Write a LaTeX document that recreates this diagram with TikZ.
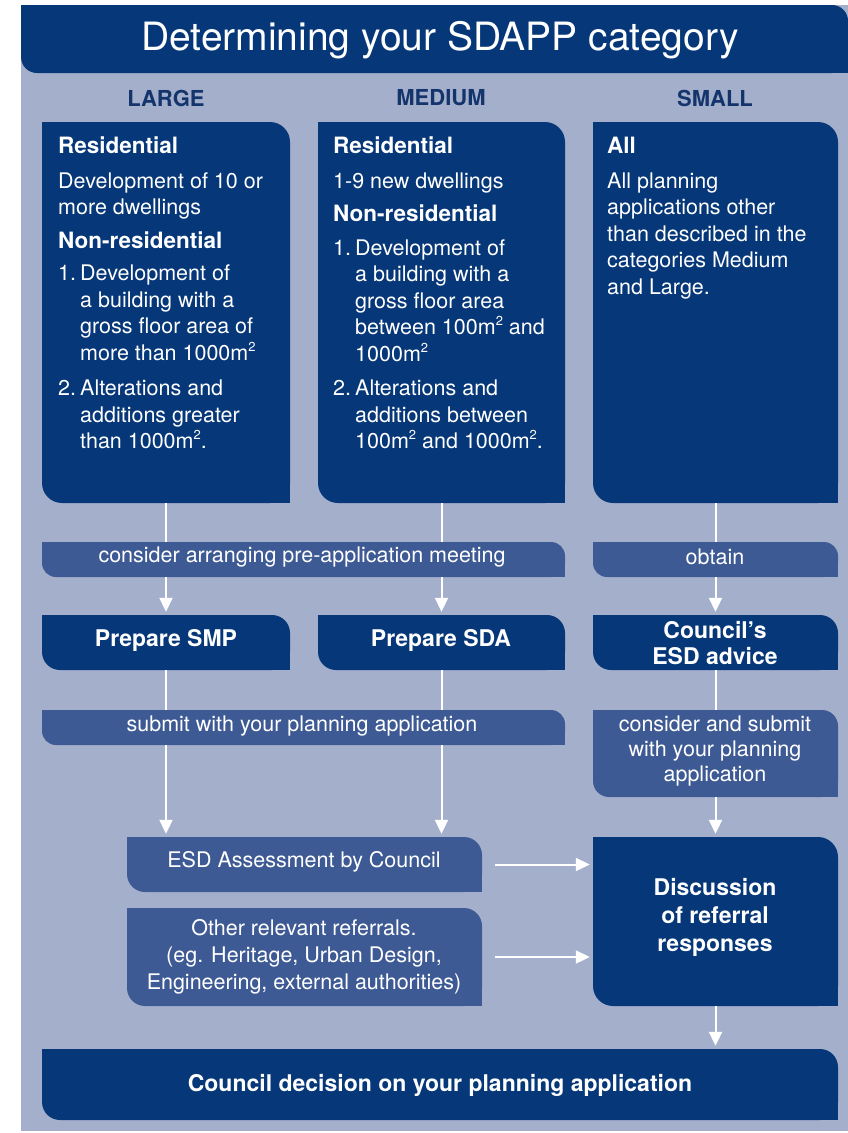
\documentclass[tikz,border=0pt]{standalone}
\usepackage{fontspec}
\setmainfont{TeX Gyre Heros}
\usetikzlibrary{arrows.meta}
\definecolor{navy}{RGB}{6,55,120}
\definecolor{midb}{RGB}{62,90,148}
\definecolor{panel}{RGB}{164,175,204}
\definecolor{headc}{RGB}{20,52,108}
\newcommand{\reg}{\fontsize{21.5}{26.5}\selectfont}
\newcommand{\hd}[1]{{\fontsize{22.5}{26.5}\selectfont\bfseries #1}}
\newcommand{\nitem}[1]{\makebox[22pt][l]{#1}}
\newcommand{\ind}{\hspace*{22pt}}
\newcommand{\sq}{\raisebox{0.8ex}{\fontsize{13}{13}\selectfont 2}}
\newcommand{\skbox}[7]{%
  \fill[#6] (#2,#3) rectangle ++(#7,#7);
  \fill[#6] (#4,#5) rectangle ++(-#7,-#7);
  \node[fill=#6, rounded corners=#7pt, inner sep=0pt,
        minimum width={(#4-#2)*1pt}, minimum height={(#5-#3)*1pt}]
        (#1) at ({(#2+#4)/2},{(#3+#5)/2}) {};
}
\tikzset{
  btext/.style={anchor=north west, align=left, inner sep=0pt, text=white, font=\reg},
  ctext/.style={align=center, inner sep=0pt, text=white, font=\reg},
  bctext/.style={align=center, inner sep=0pt, text=white, font=\fontsize{23}{25.5}\selectfont\bfseries},
  hdr/.style={inner sep=0pt, text=headc, font=\fontsize{22}{26}\selectfont\bfseries},
  link/.style={draw=white, line width=2pt},
  flow/.style={draw=white, line width=2pt, -{Triangle[length=14pt,width=13pt]}, shorten >=3pt}
}
\begin{document}
\begin{tikzpicture}[x=1pt,y=-1pt]
\useasboundingbox (0,0) rectangle (848,1133);
\fill[white] (0,0) rectangle (848,1133);
\fill[panel] (21,5) rectangle (848,1131);
% title
\skbox{titlebar}{21}{5}{848}{73}{navy}{16}
\node[inner sep=0pt, text=white, font=\fontsize{39}{44}\selectfont] (title) at (440,40) {Determining your SDAPP category};
% headers
\node[hdr] (hlarge) at (166,98) {LARGE};
\node[hdr] (hmed) at (441,98) {MEDIUM};
\node[hdr] (hsmall) at (715,98) {SMALL};
% category boxes
\skbox{large}{42}{122}{290}{503}{navy}{20}
\skbox{medium}{318}{122}{565}{503}{navy}{20}
\skbox{small}{593}{122}{838}{503}{navy}{20}
\node[btext] (largetxt) at (58,137) {\hd{Residential}\\[8pt]
Development of 10 or\\ more dwellings\\[7pt]
\hd{Non-residential}\\[6pt]
\nitem{1.}Development of\\ \ind a building with a\\ \ind gross floor area of\\ \ind more than 1000m\sq\\[9pt]
\nitem{2.}Alterations and\\ \ind additions greater\\ \ind than 1000m\sq.};
\node[btext] (medtxt) at (333,137) {\hd{Residential}\\[8pt]
1-9 new dwellings\\[7pt]
\hd{Non-residential}\\[7pt]
\nitem{1.}Development of\\ \ind a building with a\\ \ind gross floor area\\ \ind between 100m\sq{} and\\ \ind 1000m\sq\\[8pt]
\nitem{2.}Alterations and\\ \ind additions between\\ \ind 100m\sq{} and 1000m\sq.};
\node[btext] (smalltxt) at (607,137) {\hd{All}\\[8pt]
All planning\\ applications other\\ than described in the\\ categories Medium\\ and Large.};
% bands row 1
\skbox{prebnd}{42}{542}{565}{577}{midb}{14}
\skbox{obtain}{593}{542}{838}{577}{midb}{14}
\node[ctext] (pretxt) at (302,557) {consider arranging pre-application meeting};
\node[ctext] (obtxt) at (715,557) {obtain};
% prepare row
\skbox{smp}{42}{615}{290}{670}{navy}{18}
\skbox{sda}{318}{615}{565}{670}{navy}{18}
\skbox{advice}{593}{615}{838}{670}{navy}{18}
\node[bctext] (smptxt) at (166,640) {Prepare SMP};
\node[bctext] (sdatxt) at (441,640) {Prepare SDA};
\node[bctext] (advtxt) at (715,643) {Council's\\ESD advice};
% bands row 2
\skbox{submit}{42}{710}{565}{745}{midb}{14}
\skbox{consider}{593}{710}{838}{797}{midb}{16}
\node[ctext] (subtxt) at (302,726) {submit with your planning application};
\node[ctext, font=\fontsize{21.5}{25}\selectfont] (contxt) at (715,751) {consider and submit\\with your planning\\application};
% assessment row
\skbox{esd}{127}{837}{482}{892}{midb}{18}
\skbox{other}{127}{908}{482}{1006}{midb}{18}
\skbox{disc}{593}{837}{838}{1006}{navy}{20}
\node[ctext] (esdtxt) at (304,862) {ESD Assessment by Council};
\node[ctext, font=\fontsize{21.5}{27}\selectfont] (othtxt) at (304,957) {Other relevant referrals.\\(eg. Heritage, Urban Design,\\Engineering, external authorities)};
\node[bctext, font=\fontsize{23}{28}\selectfont\bfseries] (disctxt) at (715,917) {Discussion\\of referral\\responses};
% decision
\skbox{decision}{42}{1049}{838}{1120}{navy}{18}
\node[bctext] (dectxt) at (440,1085) {Council decision on your planning application};
% connectors
\draw[link] (large.south) -- (large.south |- prebnd.north);
\draw[link] (medium.south) -- (medium.south |- prebnd.north);
\draw[link] (small.south) -- (obtain.north);
\draw[flow] (smp.north |- prebnd.south) -- (smp.north);
\draw[flow] (sda.north |- prebnd.south) -- (sda.north);
\draw[flow] (obtain.south) -- (advice.north);
\draw[link] (smp.south) -- (smp.south |- submit.north);
\draw[link] (sda.south) -- (sda.south |- submit.north);
\draw[link] (advice.south) -- (consider.north);
\draw[flow] (smp.south |- submit.south) -- (smp.south |- esd.north);
\draw[flow] (sda.south |- submit.south) -- (sda.south |- esd.north);
\draw[flow] (consider.south) -- (disc.north);
\draw[flow, shorten <=13pt] (esd.east) -- (esd.east -| disc.west);
\draw[flow, shorten <=13pt] (other.east) -- (other.east -| disc.west);
\draw[flow] (disc.south) -- (disc.south |- decision.north);
\end{tikzpicture}
\end{document}
